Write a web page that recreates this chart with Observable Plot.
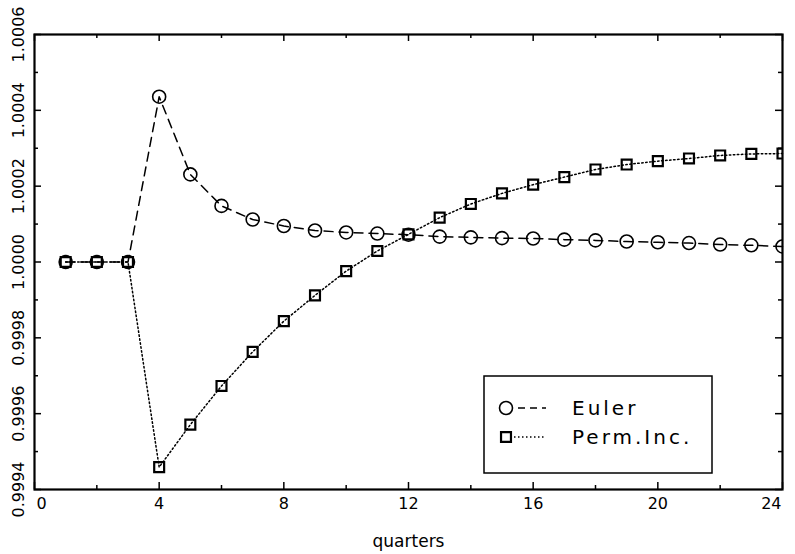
<!DOCTYPE html>
<html>
<head>
<meta charset="utf-8">
<script src="https://cdn.jsdelivr.net/npm/d3@7"></script>
<script src="https://cdn.jsdelivr.net/npm/@observablehq/plot@0.6"></script>
<style>
  html, body { margin: 0; padding: 0; background: #fff; }
  svg { display: block; }
</style>
</head>
<body>
<div id="chart"></div>
<script>
// ---- data ----
const quarters = [1,2,3,4,5,6,7,8,9,10,11,12,13,14,15,16,17,18,19,20,21,22,23,24];
const euler = [1.0000, 1.0000, 1.0000, 1.000436, 1.000231, 1.000148, 1.000112, 1.000095,
               1.000083, 1.000078, 1.000075, 1.000072, 1.000067, 1.000065, 1.000063, 1.000062,
               1.000059, 1.000057, 1.000054, 1.000052, 1.000050, 1.000046, 1.000044, 1.000041];
const permInc = [1.0000, 1.0000, 1.0000, 0.999459, 0.999571, 0.999673, 0.999763, 0.999844,
                 0.999912, 0.999976, 1.000029, 1.000073, 1.000117, 1.000153, 1.000181, 1.000204,
                 1.000224, 1.000244, 1.000257, 1.000266, 1.000273, 1.000281, 1.000285, 1.000286];
const seriesNames = ["Euler", "Perm.Inc."];
const xMajor = [0, 4, 8, 12, 16, 20, 24];
const xMinor = [2, 6, 10, 14, 18, 22];
const yMajor = [0.9994, 0.9996, 0.9998, 1.0000, 1.0002, 1.0004, 1.0006];
const yMinor = [0.9995, 0.9997, 0.9999, 1.0001, 1.0003, 1.0005];
const xTitle = "quarters";

const eulerRows = quarters.map((q, i) => ({q, v: euler[i]}));
const permRows = quarters.map((q, i) => ({q, v: permInc[i]}));

const FONT = "'DejaVu Sans', 'Liberation Sans', sans-serif";

const W = 795, H = 554, ML = 34, MR = 13, MT = 34, MB = 65;
const FW = W - ML - MR, FH = H - MT - MB;

// inward tick marks drawn as short rules hugging the frame
function ticks(data, side, len) {
  const common = {stroke: "#000", strokeWidth: 1.5};
  switch (side) {
    case "bottom": return Plot.ruleX(data, {x: d => d, insetTop: FH - len, ...common});
    case "top":    return Plot.ruleX(data, {x: d => d, insetBottom: FH - len, ...common});
    case "left":   return Plot.ruleY(data, {y: d => d, insetRight: FW - len, ...common});
    case "right":  return Plot.ruleY(data, {y: d => d, insetLeft: FW - len, ...common});
  }
}

const plot = Plot.plot({
  width: W,
  height: H,
  marginLeft: ML,
  marginRight: MR,
  marginTop: MT,
  marginBottom: MB,
  style: {fontFamily: FONT, background: "#fff", color: "#000"},
  x: {domain: [0, 24], axis: null},
  y: {domain: [0.9994, 1.0006], axis: null},
  marks: [
    // inward ticks on all four sides
    ticks(xMajor, "bottom", 7), ticks(xMinor, "bottom", 4),
    ticks(xMajor, "top", 7), ticks(xMinor, "top", 4),
    ticks(yMajor, "left", 7), ticks(yMinor, "left", 4),
    ticks(yMajor, "right", 7), ticks(yMinor, "right", 4),
    // x tick labels
    Plot.text(xMajor.slice(0, 1), {x: d => d, frameAnchor: "bottom", dy: 14, text: d => String(d),
      textAnchor: "start", dx: 2, fontSize: 16, fill: "#000", lineAnchor: "middle"}),
    Plot.text(xMajor.slice(1, -1), {x: d => d, frameAnchor: "bottom", dy: 14, text: d => String(d),
      textAnchor: "middle", fontSize: 16, fill: "#000", lineAnchor: "middle"}),
    Plot.text(xMajor.slice(-1), {x: d => d, frameAnchor: "bottom", dy: 14, text: d => String(d),
      textAnchor: "end", dx: -1, fontSize: 16, fill: "#000", lineAnchor: "middle"}),
    // y tick labels (rotated)
    Plot.text(yMajor, {y: d => d, frameAnchor: "left", dx: -16, rotate: -90, text: d => d3.format(".4f")(d),
      textAnchor: "middle", lineAnchor: "middle", fontSize: 16, fill: "#000"}),
    // x axis title
    Plot.text([xTitle], {frameAnchor: "bottom", dy: 52, text: d => d, fontSize: 17,
      fill: "#000", lineAnchor: "middle", letterSpacing: "2px"}),
    // series lines
    Plot.line(eulerRows, {x: "q", y: "v", stroke: "#000", strokeWidth: 1.5, strokeDasharray: "9,6"}),
    Plot.line(permRows, {x: "q", y: "v", stroke: "#000", strokeWidth: 1.5, strokeDasharray: "1.5,2.5"}),
    // markers
    Plot.dot(eulerRows, {x: "q", y: "v", r: 6.5, symbol: "circle", stroke: "#000", fill: "none", strokeWidth: 1.6, clip: true}),
    Plot.dot(permRows, {x: "q", y: "v", r: 5.6, symbol: "square", stroke: "#000", fill: "none", strokeWidth: 2.2, clip: true}),
    Plot.frame({stroke: "#000", strokeWidth: 2.2})
  ]
});

document.getElementById("chart").appendChild(plot);

// ---- legend (inside the plot area, lower right) ----
const svg = d3.select(plot);
const lg = svg.append("g").attr("class", "legend").attr("text-anchor", "start");
lg.append("rect")
  .attr("x", 484).attr("y", 376).attr("width", 228).attr("height", 97)
  .attr("fill", "#fff").attr("stroke", "#000").attr("stroke-width", 1.5);
const legendRows = [
  {name: seriesNames[0], dash: "7,5", symbol: d3.symbolCircle, size: Math.PI * 6.5 * 6.5, sw: 1.6},
  {name: seriesNames[1], dash: "1.5,2.5", symbol: d3.symbolSquare, size: Math.PI * 5.6 * 5.6, sw: 2.2}
];
legendRows.forEach((r, i) => {
  const cy = 408 + i * 29;
  lg.append("line").attr("x1", 506).attr("x2", 546).attr("y1", cy).attr("y2", cy)
    .attr("stroke", "#000").attr("stroke-width", 1.5).attr("stroke-dasharray", r.dash);
  lg.append("path").attr("d", d3.symbol(r.symbol, r.size)())
    .attr("transform", `translate(506,${cy})`)
    .attr("fill", "#fff").attr("stroke", "#000").attr("stroke-width", r.sw);
  lg.append("text").attr("x", 572).attr("y", cy).attr("dy", "0.36em")
    .attr("text-anchor", "start")
    .attr("font-family", FONT).attr("font-size", 20).attr("letter-spacing", "3px")
    .attr("fill", "#000").text(r.name);
});
</script>
</body>
</html>
